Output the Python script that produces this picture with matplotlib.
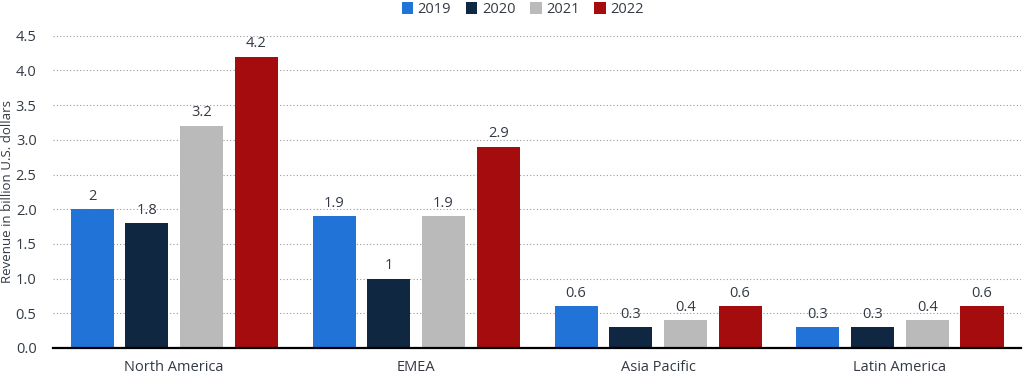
import matplotlib.pyplot as plt
import numpy as np

plt.rcParams["font.family"] = ["Open Sans", "DejaVu Sans"]

REGIONS = ["North America", "EMEA", "Asia Pacific", "Latin America"]
YEARS = ["2019", "2020", "2021", "2022"]
REV_2019 = [2.0, 1.9, 0.6, 0.3]
REV_2020 = [1.8, 1.0, 0.3, 0.3]
REV_2021 = [3.2, 1.9, 0.4, 0.4]
REV_2022 = [4.2, 2.9, 0.6, 0.6]

COLORS = ["#2273d8", "#0f2740", "#bababa", "#a50c0e"]
TEXT_COLOR = "#333a44"


def fmt(v):
    return f"{v:g}"


fig = plt.figure(figsize=(10.24, 3.77), dpi=100)
ax = fig.add_axes([0.052, 0.077, 0.945, 0.828])

x = np.arange(len(REGIONS))
pitch = 0.226
width = 0.178
series = [REV_2019, REV_2020, REV_2021, REV_2022]
for i, (vals, year, color) in enumerate(zip(series, YEARS, COLORS)):
    pos = x + (i - 1.5) * pitch
    bars = ax.bar(pos, vals, width, color=color, label=year, zorder=3)
    for b, v in zip(bars, vals):
        ax.text(b.get_x() + b.get_width() / 2, v + 0.08, fmt(v),
                ha="center", va="bottom", fontsize=10.5, color=TEXT_COLOR,
                zorder=4)

ax.set_xlim(-0.5, 3.5)
ax.set_ylim(0, 4.5)
ax.set_yticks(np.arange(0, 4.51, 0.5))
ax.set_yticklabels([f"{t:.1f}" for t in np.arange(0, 4.51, 0.5)])
ax.set_xticks(x)
ax.set_xticklabels(REGIONS)
ax.tick_params(axis="both", length=0, labelsize=10.5, colors=TEXT_COLOR)
ax.tick_params(axis="x", pad=9)
ax.tick_params(axis="y", pad=12)
ax.yaxis.grid(True, linestyle=(0, (1, 2)), color="#9a9a9a", linewidth=0.8,
              zorder=0)
for side in ["top", "right", "left"]:
    ax.spines[side].set_visible(False)
ax.spines["bottom"].set_color("black")
ax.spines["bottom"].set_linewidth(1.6)
ax.spines["bottom"].set_zorder(5)

ax.set_ylabel("Revenue in billion U.S. dollars", fontsize=9.5,
              color=TEXT_COLOR)
ax.yaxis.set_label_coords(-0.041, 0.5)

ax.legend(loc="upper center", bbox_to_anchor=(0.485, 1.15), ncol=4,
          frameon=False, fontsize=10.5, handlelength=0.8, handleheight=0.8,
          handletextpad=0.3, columnspacing=1.0, labelcolor=TEXT_COLOR)

fig.savefig("out.png", dpi=100)
